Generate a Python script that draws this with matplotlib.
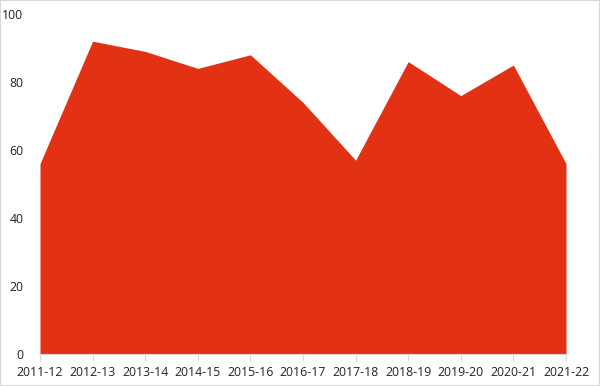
import matplotlib.pyplot as plt
from matplotlib.patches import Rectangle

years = ["2011-12", "2012-13", "2013-14", "2014-15", "2015-16", "2016-17",
         "2017-18", "2018-19", "2019-20", "2020-21", "2021-22"]
values = [56, 92, 89, 84, 88, 74, 57, 86, 76, 85, 56]

plt.rcParams["font.family"] = ["Open Sans", "DejaVu Sans"]

fig = plt.figure(figsize=(6, 3.86), dpi=100)
ax = fig.add_axes([40 / 600, 32 / 386, 526 / 600, 340 / 386])

x = list(range(len(years)))
ax.fill_between(x, values, 0, color="#E23213", linewidth=0)

ax.set_xlim(0, len(years) - 1)
ax.set_ylim(0, 100)
ax.set_xticks(x)
ax.set_xticklabels(years)
ax.set_yticks(range(0, 101, 20))

for side in ("top", "right", "left"):
    ax.spines[side].set_visible(False)
ax.spines["bottom"].set_color("#d9d9d9")
ax.tick_params(axis="x", colors="#d9d9d9", length=5, labelcolor="#222222",
               labelsize=8.8, pad=4)
ax.tick_params(axis="y", length=0, labelcolor="#222222", labelsize=8.8, pad=12)

fig.patches.append(Rectangle((0, 0), 1, 1, transform=fig.transFigure,
                             fill=False, edgecolor="#d9d9d9", linewidth=1.5))

fig.savefig("out.png", dpi=100)
